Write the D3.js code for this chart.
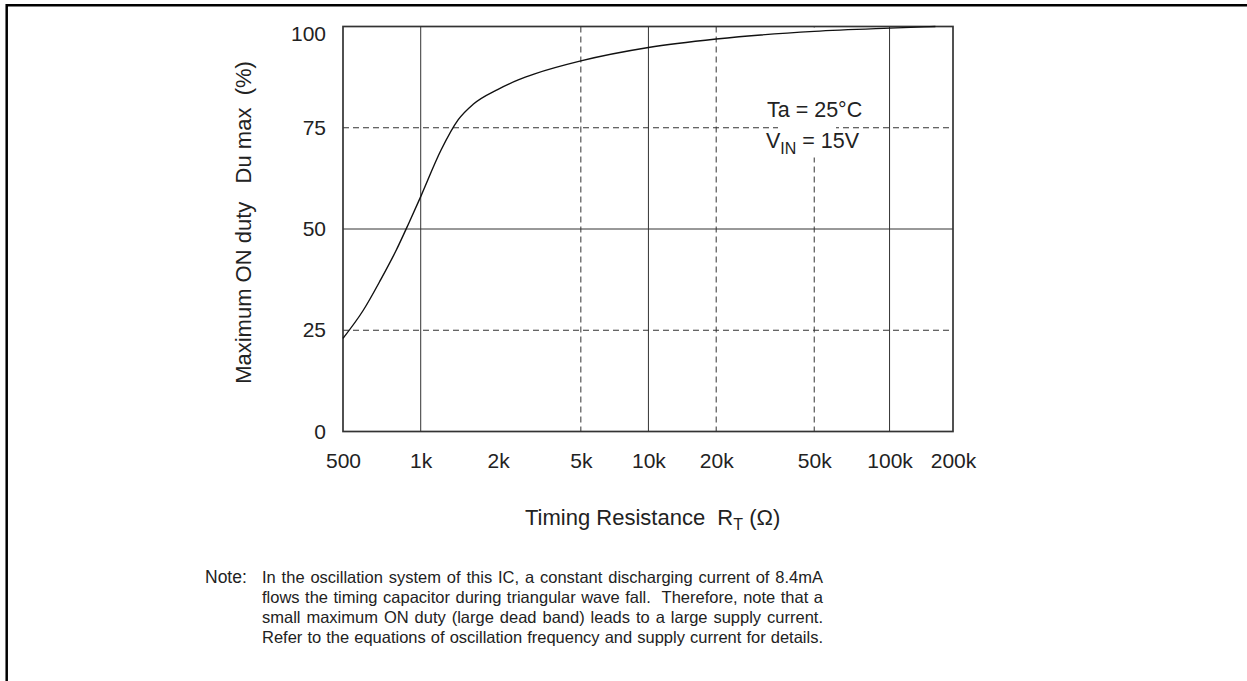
<!DOCTYPE html>
<html>
<head>
<meta charset="utf-8">
<script src="https://cdn.jsdelivr.net/npm/d3@7"></script>
<style>
  body { margin: 0; background: #fff; }
  svg { display: block; font-family: "Liberation Sans", Arial, sans-serif; }
</style>
</head>
<body>
<svg id="chart" width="1247" height="681"></svg>
<script>
// Curve: RT (ohm) vs max ON duty (%)
var rt_ohm = [500, 600, 700, 800, 900, 1000, 1200, 1400, 1600, 2000, 2500, 3000, 5000, 10000, 20000, 50000, 100000, 165000];
var duty_pct = [23, 30, 37.5, 44.5, 51.5, 58, 69.5, 77, 80.8, 84.5, 86.8, 88.3, 91.5, 94.8, 96.9, 98.8, 99.6, 100];

var x_ticks = [500, 1000, 2000, 5000, 10000, 20000, 50000, 100000, 200000];
var x_tick_labels = ['500', '1k', '2k', '5k', '10k', '20k', '50k', '100k', '200k'];
var x_grid_solid = [1000, 10000, 100000];
var x_grid_dash = [5000, 20000, 50000];
var y_ticks = [0, 25, 50, 75, 100];
var y_grid_solid = [50];
var y_grid_dash = [25, 75];

var note_lines = [
  'In the oscillation system of this IC, a constant discharging current of 8.4mA',
  'flows the timing capacitor during triangular wave fall.  Therefore, note that a',
  'small maximum ON duty (large dead band) leads to a large supply current.',
  'Refer to the equations of oscillation frequency and supply current for details.'
];

var svg = d3.select('#chart');
var width = 1247, height = 681;
var plot = { left: 343, top: 26.5, right: 953, bottom: 431.5 };
var pw = plot.right - plot.left;
var ink = '#222';

//Frame round the figure (left + top only)
svg.append('path')
  .attr('d', 'M6.7,' + height + 'V5.3H' + width)
  .attr('fill', 'none').attr('stroke', '#000').attr('stroke-width', 2.5);

//Scales - the printed log axis is not evenly spaced, so map it piecewise at the ticks
var x_frac = [0, 0.1274, 0.2542, 0.3899, 0.5007, 0.6118, 0.7725, 0.896, 1];
var x = d3.scaleLog()
  .domain(x_ticks)
  .range(x_frac.map(function(f){ return plot.left + f * pw; }));
var y = d3.scaleLinear().domain([0, 100]).range([plot.bottom, plot.top]);

var g = svg.append('g');

//Grid
g.selectAll('.vgrid').data(x_grid_solid.concat(x_grid_dash)).enter().append('line')
  .attr('x1', function(d){ return x(d); }).attr('x2', function(d){ return x(d); })
  .attr('y1', plot.top).attr('y2', plot.bottom)
  .attr('stroke', '#333').attr('stroke-width', 1)
  .attr('stroke-dasharray', function(d){ return x_grid_dash.indexOf(d) >= 0 ? '6,4' : null; });
g.selectAll('.hgrid').data(y_grid_solid.concat(y_grid_dash)).enter().append('line')
  .attr('y1', function(d){ return y(d); }).attr('y2', function(d){ return y(d); })
  .attr('x1', plot.left).attr('x2', plot.right)
  .attr('stroke', '#333').attr('stroke-width', 1)
  .attr('stroke-dasharray', function(d){ return y_grid_dash.indexOf(d) >= 0 ? '6,4' : null; });

//Blank patch behind the conditions text
g.append('rect').attr('x', 778).attr('y', plot.top + 1).attr('width', 58).attr('height', 130).attr('fill', '#fff');

//Plot box
g.append('rect').attr('x', plot.left).attr('y', plot.top).attr('width', pw).attr('height', plot.bottom - plot.top)
  .attr('fill', 'none').attr('stroke', '#333').attr('stroke-width', 1.7);

//Curve
var line = d3.line()
  .x(function(d){ return x(d[0]); })
  .y(function(d){ return y(d[1]); })
  .curve(d3.curveMonotoneX);
g.append('path').datum(d3.zip(rt_ohm, duty_pct))
  .attr('d', line).attr('fill', 'none').attr('stroke', '#111').attr('stroke-width', 1.4);

//Axes
var xAxis = d3.axisBottom(x).tickValues(x_ticks).tickSize(0).tickPadding(21.5)
  .tickFormat(function(d, i){ return x_tick_labels[i]; });
svg.append('g').attr('transform', 'translate(0,' + plot.bottom + ')').call(xAxis)
  .call(function(a){ a.select('.domain').remove(); })
  .selectAll('text').attr('font-size', 21).attr('fill', ink).attr('font-family', 'Liberation Sans, Arial, sans-serif');

var yAxis = d3.axisLeft(y).tickValues(y_ticks).tickSize(0).tickPadding(17);
svg.append('g').attr('transform', 'translate(' + plot.left + ',0)').call(yAxis)
  .call(function(a){ a.select('.domain').remove(); })
  .selectAll('text').attr('font-size', 21).attr('fill', ink).attr('font-family', 'Liberation Sans, Arial, sans-serif')
  .attr('dy', function(d){ return d === 100 ? '0.66em' : '0.32em'; });

//Axis titles
var xt = svg.append('text').attr('x', 525).attr('y', 525)
  .attr('font-size', 22).attr('fill', ink).attr('xml:space', 'preserve');
xt.append('tspan').text('Timing Resistance  R');
xt.append('tspan').attr('font-size', 16).attr('dy', 5).text('T');
xt.append('tspan').attr('dy', -5).text(' (\u03A9)');

svg.append('text').attr('transform', 'translate(251,222.5) rotate(-90)').attr('text-anchor', 'middle')
  .attr('font-size', 22).attr('fill', ink).attr('xml:space', 'preserve')
  .text('Maximum ON duty   Du max  (%)');

//Conditions
svg.append('text').attr('x', 767).attr('y', 117).attr('font-size', 21.5).attr('fill', ink).text('Ta = 25\u00B0C');
var vin = svg.append('text').attr('x', 766).attr('y', 148).attr('font-size', 21.5).attr('fill', ink);
vin.append('tspan').text('V');
vin.append('tspan').attr('font-size', 16).attr('dy', 6).text('IN');
vin.append('tspan').attr('dy', -6).text(' = 15V');

//Note, justified to the right margin
var note = svg.append('g').attr('font-size', 16.5).attr('fill', ink);
note.append('text').attr('x', 205).attr('y', 583).attr('font-size', 17.5).text('Note:');
var noteRight = 823;
note_lines.forEach(function(s, i){
  var lx = 262;
  var t = note.append('text').attr('x', lx).attr('y', 583 + i * 20).attr('xml:space', 'preserve').text(s);
  var len = t.node().getComputedTextLength();
  var gaps = s.split(' ').length - 1;
  t.style('word-spacing', ((noteRight - lx - len) / gaps) + 'px');
});
</script>
</body>
</html>
